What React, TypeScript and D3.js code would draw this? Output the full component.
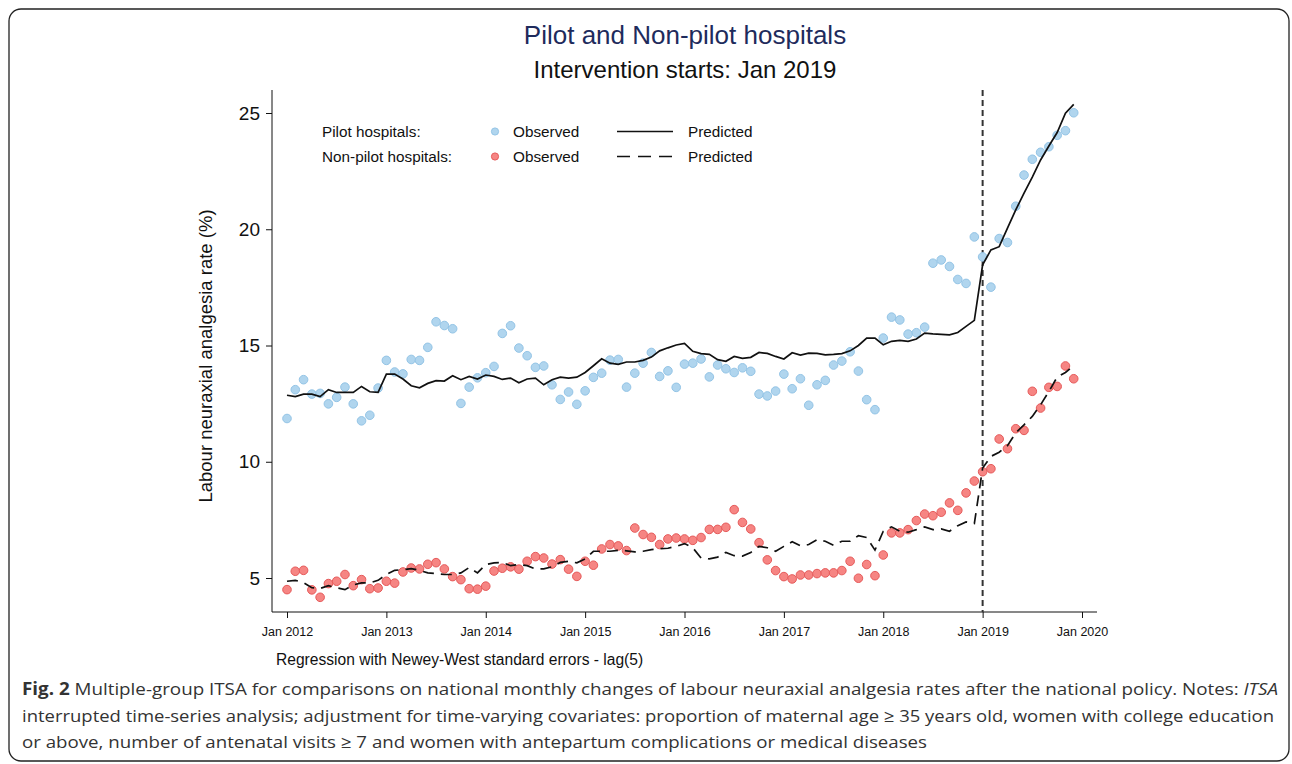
import React from "react";
import * as d3 from "d3";

// monthly series, Jan 2012 .. Dec 2019
const pilotObserved = [
  11.86, 13.1, 13.53, 12.91, 12.94, 12.49, 12.77, 13.21, 12.49, 11.76, 12.0, 13.17,
  14.36, 13.86, 13.78, 14.4, 14.36, 14.92, 16.02, 15.86, 15.72, 12.51, 13.21, 13.61,
  13.83, 14.1, 15.52, 15.85, 14.89, 14.56, 14.06, 14.12, 13.31, 12.68, 13.0, 12.47,
  13.05, 13.63, 13.81, 14.37, 14.4, 13.21, 13.81, 14.24, 14.7, 13.67, 13.91, 13.2,
  14.2, 14.24, 14.42, 13.65, 14.16, 14.0, 13.84, 14.04, 13.89, 12.91, 12.83, 13.04,
  13.77, 13.14, 13.57, 12.43, 13.31, 13.5, 14.16, 14.33, 14.73, 13.9, 12.67, 12.24,
  15.32, 16.22, 16.1, 15.49, 15.55, 15.79, 18.54, 18.68, 18.4, 17.84, 17.67, 19.67,
  18.81, 17.51, 19.6, 19.43, 20.99, 22.33, 23.01, 23.31, 23.55, 24.04, 24.24, 25.01,
];
const pilotPredicted = [
  12.86, 12.8, 12.91, 12.91, 12.8, 13.1, 12.98, 12.98, 12.98, 13.24, 13.01, 12.98,
  13.77, 13.77, 13.56, 13.27, 13.18, 13.37, 13.49, 13.47, 13.7, 13.53, 13.67, 13.56,
  13.73, 13.67, 13.54, 13.6, 13.4, 13.56, 13.6, 13.31, 13.53, 13.64, 13.6, 13.64,
  13.84, 14.13, 14.43, 14.24, 14.19, 14.29, 14.29, 14.36, 14.5, 14.77, 14.9, 15.02,
  15.09, 14.75, 14.65, 14.62, 14.39, 14.32, 14.53, 14.45, 14.49, 14.7, 14.66, 14.53,
  14.42, 14.69, 14.59, 14.67, 14.66, 14.6, 14.62, 14.65, 14.77, 15.0, 15.32, 15.32,
  15.03, 15.18, 15.22, 15.18, 15.28, 15.53, 15.5, 15.48, 15.46, 15.56, 15.82, 16.08,
  18.47, 19.11, 19.25, 20.05, 20.83, 21.55, 22.24, 22.98, 23.58, 24.16, 24.99, 25.37,
];
const nonPilotObserved = [
  4.5, 5.29, 5.33, 4.49, 4.17, 4.76, 4.86, 5.15, 4.67, 4.93, 4.54, 4.57,
  4.86, 4.78, 5.26, 5.43, 5.39, 5.59, 5.66, 5.39, 5.06, 4.93, 4.54, 4.52,
  4.65, 5.3, 5.42, 5.48, 5.38, 5.72, 5.92, 5.86, 5.6, 5.79, 5.38, 5.07,
  5.72, 5.55, 6.25, 6.44, 6.38, 6.18, 7.15, 6.87, 6.75, 6.44, 6.68, 6.72,
  6.68, 6.62, 6.74, 7.09, 7.09, 7.18, 7.94, 7.39, 7.11, 6.52, 5.78, 5.32,
  5.06, 4.96, 5.13, 5.13, 5.19, 5.22, 5.22, 5.32, 5.72, 4.99, 5.58, 5.1,
  5.99, 6.94, 6.94, 7.08, 7.47, 7.75, 7.68, 7.83, 8.23, 7.91, 8.66, 9.17,
  9.57, 9.7, 10.98, 10.56, 11.42, 11.35, 13.03, 12.31, 13.2, 13.24, 14.12, 13.57,
];
const nonPilotPredicted = [
  4.86, 4.9, 4.8, 4.58, 4.55, 4.67, 4.58, 4.5, 4.7, 4.79, 4.79, 4.9,
  5.15, 5.33, 5.36, 5.4, 5.33, 5.22, 5.19, 5.15, 5.15, 5.22, 5.45, 5.22,
  5.58, 5.65, 5.67, 5.53, 5.58, 5.53, 5.39, 5.39, 5.48, 5.67, 5.72, 5.65,
  5.82, 6.15, 6.15, 6.15, 6.19, 6.17, 6.12, 6.15, 6.22, 6.26, 6.28, 6.36,
  6.48, 6.3, 5.86, 5.82, 5.9, 6.1, 5.96, 5.94, 6.1, 6.36, 6.3, 6.15,
  6.36, 6.56, 6.39, 6.44, 6.65, 6.58, 6.41, 6.58, 6.58, 6.82, 6.74, 6.2,
  7.01, 7.2, 7.01, 6.97, 7.08, 7.2, 7.08, 7.11, 7.01, 7.25, 7.41, 7.34,
  9.73, 10.23, 10.41, 10.69, 11.24, 11.59, 11.95, 12.45, 13.02, 13.64, 13.84, 14.13,
];
const xTickLabels = ["Jan 2012", "Jan 2013", "Jan 2014", "Jan 2015", "Jan 2016", "Jan 2017", "Jan 2018", "Jan 2019", "Jan 2020"];
const yTicks = [5, 10, 15, 20, 25];
const interventionMonth = 84; // Jan 2019

const W = 1292;
const H = 764;
const BLUE = "#b0d5ee";
const BLUE_EDGE = "#93c4e6";
const RED = "#f68583";
const RED_EDGE = "#e65a5a";
const FONT = "'Liberation Sans', Arial, sans-serif";

const App = () => {
  const svgRef = React.useRef<SVGSVGElement>(null);

  React.useEffect(() => {
    const svg = d3.select(svgRef.current);
    svg.selectAll("*").remove();

    // outer frame
    svg.append("rect")
      .attr("x", 9).attr("y", 9).attr("width", 1280).attr("height", 752)
      .attr("rx", 12).attr("fill", "white").attr("stroke", "#222").attr("stroke-width", 1.3);

    // scales: month index -> px
    const x = d3.scaleLinear().domain([0, 96]).range([287, 1082]);
    const y = d3.scaleLinear().domain([5, 25]).range([578, 113]);
    const left = 272, right = 1097, top = 90, bottom = 612;

    // titles
    svg.append("text").attr("x", 685).attr("y", 44).attr("text-anchor", "middle")
      .attr("font-family", FONT).attr("font-size", 26).attr("fill", "#1e2b5c")
      .text("Pilot and Non-pilot hospitals");
    svg.append("text").attr("x", 685).attr("y", 78).attr("text-anchor", "middle")
      .attr("font-family", FONT).attr("font-size", 24).attr("fill", "#111")
      .text("Intervention starts: Jan 2019");

    // y axis
    const yAxis = d3.axisLeft(y).tickValues(yTicks).tickSize(6).tickSizeOuter(0).tickPadding(6);
    const yg = svg.append("g").attr("transform", `translate(${left},0)`).call(yAxis);
    yg.select(".domain").remove();
    yg.selectAll("text").attr("font-family", FONT).attr("font-size", 19).attr("fill", "#111");
    yg.selectAll("line").attr("stroke", "#111");
    svg.append("line").attr("x1", left).attr("x2", left).attr("y1", top).attr("y2", bottom)
      .attr("stroke", "#111").attr("stroke-width", 1);

    // x axis
    const xAxis = d3.axisBottom(x)
      .tickValues(xTickLabels.map((_, i) => i * 12))
      .tickFormat((d, i) => xTickLabels[i])
      .tickSize(6).tickSizeOuter(0).tickPadding(9);
    const xg = svg.append("g").attr("transform", `translate(0,${bottom})`).call(xAxis);
    xg.select(".domain").remove();
    xg.selectAll("text").attr("font-family", FONT).attr("font-size", 12.5).attr("fill", "#111");
    xg.selectAll("line").attr("stroke", "#111");
    svg.append("line").attr("x1", left).attr("x2", right).attr("y1", bottom).attr("y2", bottom)
      .attr("stroke", "#111").attr("stroke-width", 1);

    // axis title + note
    svg.append("text")
      .attr("transform", `translate(212,356) rotate(-90)`)
      .attr("text-anchor", "middle").attr("font-family", FONT).attr("font-size", 18.5).attr("fill", "#111")
      .text("Labour neuraxial analgesia rate (%)");
    svg.append("text").attr("x", 276).attr("y", 665)
      .attr("font-family", FONT).attr("font-size", 15.6).attr("fill", "#111")
      .text("Regression with Newey-West standard errors - lag(5)");

    // intervention line
    svg.append("line")
      .attr("x1", x(interventionMonth)).attr("x2", x(interventionMonth))
      .attr("y1", top).attr("y2", bottom)
      .attr("stroke", "#333").attr("stroke-width", 2).attr("stroke-dasharray", "6,4");

    // observed points
    const drawDots = (vals: number[], fill: string, edge: string) => {
      svg.append("g").selectAll("circle").data(vals).enter().append("circle")
        .attr("cx", (d, i) => x(i)).attr("cy", (d) => y(d)).attr("r", 4.3)
        .attr("fill", fill).attr("stroke", edge).attr("stroke-width", 1);
    };
    drawDots(pilotObserved, BLUE, BLUE_EDGE);
    drawDots(nonPilotObserved, RED, RED_EDGE);

    // predicted lines
    const line = d3.line<number>().x((d, i) => x(i)).y((d) => y(d));
    svg.append("path").attr("d", line(pilotPredicted)).attr("fill", "none")
      .attr("stroke", "#111").attr("stroke-width", 1.7);
    svg.append("path").attr("d", line(nonPilotPredicted)).attr("fill", "none")
      .attr("stroke", "#111").attr("stroke-width", 1.7).attr("stroke-dasharray", "11,7");

    // legend
    const lg = svg.append("g").attr("font-family", FONT).attr("font-size", 15.3).attr("fill", "#111");
    const rows = [
      { label: "Pilot hospitals:", fill: BLUE, edge: BLUE_EDGE, dash: null, cy: 131.5 },
      { label: "Non-pilot hospitals:", fill: RED, edge: RED_EDGE, dash: "13,8", cy: 156.5 },
    ];
    rows.forEach((r) => {
      lg.append("text").attr("x", 322).attr("y", r.cy + 5.5).text(r.label);
      lg.append("circle").attr("cx", 495).attr("cy", r.cy).attr("r", 3.6)
        .attr("fill", r.fill).attr("stroke", r.edge);
      lg.append("text").attr("x", 513).attr("y", r.cy + 5.5).text("Observed");
      lg.append("line").attr("x1", 617).attr("x2", 673).attr("y1", r.cy).attr("y2", r.cy)
        .attr("stroke", "#111").attr("stroke-width", 1.7).attr("stroke-dasharray", r.dash);
      lg.append("text").attr("x", 688).attr("y", r.cy + 5.5).text("Predicted");
    });

    // caption
    const cap = svg.append("g").attr("font-family", "'Open Sans', 'Noto Sans', sans-serif")
      .attr("font-size", 17).attr("fill", "#333");
    const l1 = cap.append("text").attr("x", 22).attr("y", 695)
      .attr("textLength", 1256).attr("lengthAdjust", "spacingAndGlyphs");
    l1.append("tspan").attr("font-weight", "bold").text("Fig. 2");
    l1.append("tspan").text(" Multiple-group ITSA for comparisons on national monthly changes of labour neuraxial analgesia rates after the national policy. Notes: ");
    l1.append("tspan").attr("font-style", "italic").text("ITSA");
    cap.append("text").attr("x", 22).attr("y", 722)
      .attr("textLength", 1252).attr("lengthAdjust", "spacingAndGlyphs")
      .text("interrupted time-series analysis; adjustment for time-varying covariates: proportion of maternal age \u2265 35 years old, women with college education");
    cap.append("text").attr("x", 22).attr("y", 748)
      .attr("textLength", 905).attr("lengthAdjust", "spacingAndGlyphs")
      .text("or above, number of antenatal visits \u2265 7 and women with antepartum complications or medical diseases");
  }, []);

  return (
    <svg ref={svgRef} width={W} height={H}
      style={{ position: "absolute", left: 0, top: 0, display: "block", background: "white" }} />
  );
};

export default App;
